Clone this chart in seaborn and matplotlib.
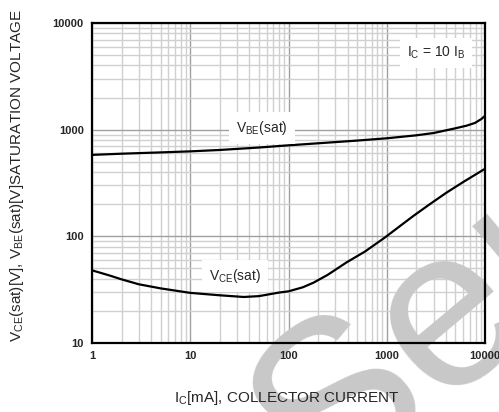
import numpy as np
import pandas as pd
import seaborn as sns
import matplotlib.pyplot as plt

# values (Ic in mA, voltage in mV)
ic_vbe = [1, 2, 5, 10, 20, 50, 100, 200, 500, 1000, 2000, 3000, 5000, 6500, 7900, 9200, 10000]
vbe_sat = [580, 595, 612, 626, 645, 680, 713, 745, 790, 830, 885, 930, 1030, 1090, 1156, 1260, 1350]

ic_vce = [1, 1.5, 2, 3, 5, 10, 20, 35, 50, 80, 100, 140, 180, 250, 390, 600, 950, 1860, 2740, 4060, 6000, 10000]
vce_sat = [48, 43, 39.5, 35.5, 32.5, 29.5, 28, 27, 27.5, 29.7, 30.5, 33.3, 36.8, 43.5, 57, 72, 97, 155, 200, 257, 323, 430]

x_ticks = [1, 10, 100, 1000, 10000]
y_ticks = [10, 100, 1000, 10000]

sns.set_theme(style="white")
plt.rcParams['font.family'] = ['Liberation Sans', 'DejaVu Sans']
plt.rcParams['mathtext.default'] = 'regular'

df = pd.concat([
    pd.DataFrame({"ic": ic_vbe, "v": vbe_sat, "curve": "VBE"}),
    pd.DataFrame({"ic": ic_vce, "v": vce_sat, "curve": "VCE"}),
])

fig = plt.figure(figsize=(4.99, 4.12), dpi=100)
pos = [0.1844, 0.1675, 0.7876, 0.7767]

# grid-only axes at the back
gax = fig.add_axes(pos, zorder=0)
gax.set_xscale("log")
gax.set_yscale("log")
gax.set_xlim(1, 10000)
gax.set_ylim(10, 10000)
gax.grid(True, which="major", color="#a0a0a0", linewidth=1.0)
gax.grid(True, which="minor", color="#d0d0d0", linewidth=1.0)
gax.tick_params(axis="both", which="both", length=0, labelbottom=False, labelleft=False)
for s in gax.spines.values():
    s.set_visible(False)

# watermark sits between the grid and the curves
fig.text(0.97, 0.30, "Semi", rotation=40, fontsize=165, color="#c8c8c8",
         ha="center", va="center", zorder=1)

# main axes on top, transparent
ax = fig.add_axes(pos, zorder=2)
ax.set_facecolor("none")
sns.lineplot(data=df, x="ic", y="v", units="curve", estimator=None,
             color="black", linewidth=1.6, ax=ax, zorder=5)

ax.set_xscale("log")
ax.set_yscale("log")
ax.set_xlim(1, 10000)
ax.set_ylim(10, 10000)
ax.grid(False, which="both")

ax.set_xticks(x_ticks)
ax.set_xticklabels([str(t) for t in x_ticks], fontweight="bold", fontsize=8)
ax.set_yticks(y_ticks)
ax.set_yticklabels([str(t) for t in y_ticks], fontweight="bold", fontsize=8)
ax.minorticks_off()
ax.tick_params(axis="both", which="both", length=0, pad=6)

for s in ax.spines.values():
    s.set_color("black")
    s.set_linewidth(1.6)

ax.set_xlabel("$I_{C}$[mA], COLLECTOR CURRENT", fontsize=11)
ax.xaxis.set_label_coords(0.496, -0.145)
ax.set_ylabel("$V_{CE}$(sat)[V], $V_{BE}$(sat)[V]SATURATION VOLTAGE", fontsize=11)
ax.yaxis.set_label_coords(-0.168, 0.525)

box = dict(facecolor="white", edgecolor="none", pad=5)
ax.text(54, 1037, "$V_{BE}$(sat)", fontsize=10, ha="center", va="center",
        bbox=box, zorder=6)
ax.text(28.5, 42.6, "$V_{CE}$(sat)", fontsize=10, ha="center", va="center",
        bbox=box, zorder=6)
ax.text(3160, 5240, "$I_{C}$ = 10 $I_{B}$", fontsize=10, ha="center", va="center",
        bbox=box, zorder=6)

fig.savefig("out.png", dpi=100)
